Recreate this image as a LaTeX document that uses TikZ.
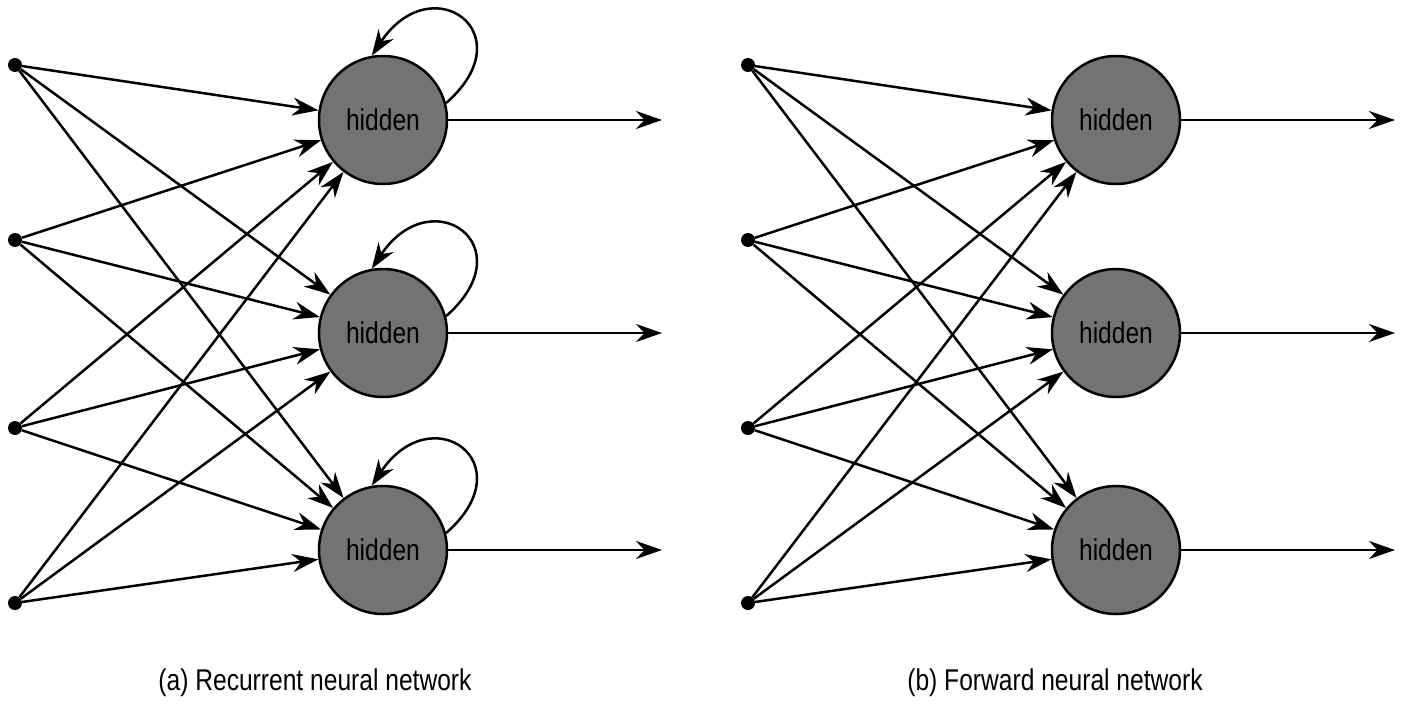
\documentclass[tikz,border=0pt]{standalone}
\usepackage{fontspec}
\setmainfont{Liberation Sans}[FakeStretch=0.82]
\usetikzlibrary{arrows.meta}
\begin{document}
\begin{tikzpicture}[x=1pt,y=-1pt,
  inp/.style={circle,fill=black,inner sep=0,minimum size=14},
  hid/.style={circle,draw,line width=2.5,fill=black!55,minimum size=128,inner sep=0,font=\fontsize{30}{30}\selectfont},
  conn/.style={line width=2.5,-{Stealth[length=26,width=18]}},
  lab/.style={font=\fontsize{30}{30}\selectfont}]
\useasboundingbox (0,0) rectangle (1409,704);
\foreach \p/\dx in {a/0,b/733}{
  \foreach \i/\y in {1/65,2/240,3/428,4/603}
    \node[inp] (\p i\i) at (15+\dx,\y) {};
  \foreach \j/\y in {1/120,2/333,3/550}{
    \node[hid] (\p h\j) at (383+\dx,\y) {hidden};
    \coordinate (\p o\j) at (662+\dx,\y);
    \draw[conn] (\p h\j) -- (\p o\j);
  }
  \foreach \i in {1,...,4}
    \foreach \j in {1,2,3}
      \draw[conn] (\p i\i) -- (\p h\j);
}
\node[lab] (la) at (315,683) {(a) Recurrent neural network};
\node[lab] (lb) at (1055,683) {(b) Forward neural network};
\foreach \j in {1,2,3}
  \draw[conn] (ah\j.15) .. controls +(80,-70) and +(60,-90) .. (ah\j.100);
\end{tikzpicture}
\end{document}
